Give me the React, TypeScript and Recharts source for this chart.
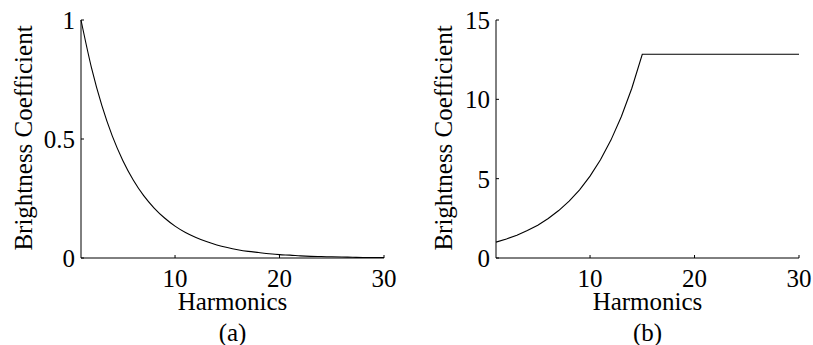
import React from 'react';
import { LineChart, Line, XAxis, YAxis } from 'recharts';

const harmonics = [1,2,3,4,5,6,7,8,9,10,11,12,13,14,15,16,17,18,19,20,21,22,23,24,25,26,27,28,29,30];
const decayValues = [1.0,0.8,0.64,0.512,0.41,0.328,0.262,0.21,0.168,0.134,0.107,0.086,0.069,0.055,0.044,0.035,0.028,0.023,0.018,0.014,0.012,0.009,0.007,0.006,0.005,0.004,0.003,0.002,0.002,0.002];
const growthValues = [1.0,1.2,1.44,1.73,2.07,2.49,2.99,3.58,4.3,5.16,6.19,7.43,8.92,10.7,12.84,12.84,12.84,12.84,12.84,12.84,12.84,12.84,12.84,12.84,12.84,12.84,12.84,12.84,12.84,12.84];
const xTicks = [10, 20, 30];
const yTicksA = [0, 0.5, 1];
const yTicksB = [0, 5, 10, 15];
const yTickLabelsA = ['0', '0.5', '1'];
const xLabel = 'Harmonics';
const yLabel = 'Brightness Coefficient';
const captions = ['(a)', '(b)'];

const FONT = "'Liberation Serif', 'Times New Roman', 'DejaVu Serif', serif";
const FS = 25;

const dataA = harmonics.map((h, i) => ({ h, v: decayValues[i] }));
const dataB = harmonics.map((h, i) => ({ h, v: growthValues[i] }));

const tickStyle = { fontFamily: FONT, fontSize: FS, fill: '#000' };

function Panel({ data, yTicks, yMax, yFmt, width, yAxisWidth, right, curve }: any) {
  return (
    <LineChart
      width={width}
      height={345}
      data={data}
      margin={{ top: 20, right, bottom: 0, left: 0 }}
      style={{ fontFamily: FONT }}
    >
      <XAxis
        dataKey="h"
        type="number"
        domain={[1, 30]}
        ticks={xTicks}
        height={87}
        stroke="#000"
        tickSize={-3}
        tickMargin={14}
        tick={tickStyle}
        tickLine={{ stroke: '#000' }}
        axisLine={{ stroke: '#000' }}
        interval={0}
      />
      <XAxis
        xAxisId="top"
        orientation="top"
        dataKey="h"
        type="number"
        domain={[1, 30]}
        ticks={xTicks}
        height={0}
        stroke="#000"
        tickSize={-3}
        tick={false}
        tickLine={{ stroke: '#000' }}
        axisLine={{ stroke: '#000' }}
      />
      <YAxis
        type="number"
        domain={[0, yMax]}
        ticks={yTicks}
        width={yAxisWidth}
        stroke="#000"
        tickSize={-3}
        tickMargin={9}
        tick={tickStyle}
        tickFormatter={yFmt}
        tickLine={{ stroke: '#000' }}
        axisLine={{ stroke: '#000' }}
        interval={0}
      />
      <YAxis
        yAxisId="right"
        orientation="right"
        type="number"
        domain={[0, yMax]}
        ticks={yTicks}
        width={0}
        stroke="#000"
        tickSize={-3}
        tick={false}
        tickLine={{ stroke: '#000' }}
        axisLine={{ stroke: '#000' }}
      />
      <Line
        type={curve}
        dataKey="v"
        stroke="#000"
        strokeWidth={1.1}
        dot={false}
        activeDot={false}
        isAnimationActive={false}
      />
    </LineChart>
  );
}

export default function App() {
  return (
    <div style={{ position: 'absolute', left: 0, top: 0, width: 813, height: 345, background: '#fff', overflow: 'hidden', fontFamily: FONT }}>
      <div style={{ position: 'absolute', left: 0, top: 0 }}>
        <Panel
          data={dataA}
          yTicks={yTicksA}
          yMax={1}
          yFmt={(v: number) => yTickLabelsA[yTicksA.indexOf(v)] ?? String(v)}
          width={410}
          yAxisWidth={81}
          right={26}
          curve="monotone"
        />
      </div>
      <div style={{ position: 'absolute', left: 410, top: 0 }}>
        <Panel
          data={dataB}
          yTicks={yTicksB}
          yMax={15}
          yFmt={(v: number) => String(v)}
          width={403}
          yAxisWidth={86}
          right={14}
          curve="linear"
        />
      </div>
      <svg width={813} height={345} style={{ position: 'absolute', left: 0, top: 0, pointerEvents: 'none' }}>
        <g style={{ fontFamily: FONT, fontSize: FS }} fill="#000">
          <text transform="translate(32,138) rotate(-90)" textAnchor="middle">{yLabel}</text>
          <text transform="translate(452,138) rotate(-90)" textAnchor="middle">{yLabel}</text>
          <text x={232.5} y={310} textAnchor="middle">{xLabel}</text>
          <text x={647.5} y={310} textAnchor="middle">{xLabel}</text>
          <text x={232.5} y={341} textAnchor="middle">{captions[0]}</text>
          <text x={647.5} y={341} textAnchor="middle">{captions[1]}</text>
        </g>
      </svg>
    </div>
  );
}
